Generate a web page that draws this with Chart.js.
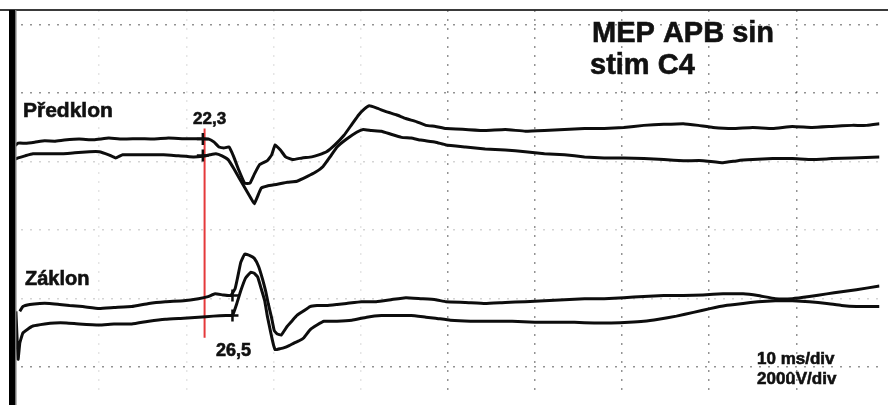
<!DOCTYPE html>
<html>
<head>
<meta charset="utf-8">
<script src="https://cdn.jsdelivr.net/npm/chart.js@4.4.1/dist/chart.umd.min.js"></script>
<style>
  html, body { margin: 0; padding: 0; background: #fff; }
  canvas { display: block; }
</style>
</head>
<body>
<canvas id="mepChart" width="888" height="405"></canvas>
<script>
// time in ms, amplitude in uV (200 uV/div, 10 ms/div)
const predklonATime = [0.2,0.7,1.5,2.6,3.75,4.9,6.0,7.7,9.4,11.1,12.8,14.55,16.25,17.95,19.7,21.1,21.9,22.6,23.2,23.75,24.3,24.9,25.45,26.0,26.7,27.3,27.8,28.4,29.3,29.8,30.2,30.8,31.4,32.2,33.3,34.4,35.2,36.1,37.05,38.1,39.0,39.8,40.45,41.0,41.8,42.95,44.1,45.2,46.4,47.5,48.6,49.8,52.05,54.3,56.6,58.9,61.1,63.4,65.7,67.95,70.2,72.5,74.8,77.05,78.75,80.45,82.7,85.0,87.3,89.55,91.8,94.1,96.4,98.1,99.55];
const predklonAUv = [643,654,654,657,661,660,663,666,664,669,666,667,666,669,667,667,667,666,657,643,640,643,614,577,537,537,563,591,603,620,649,634,614,606,611,614,620,629,649,677,709,737,754,763,757,746,737,726,717,706,703,697,694,691,694,689,691,694,697,697,700,706,709,711,706,700,697,700,697,703,700,703,706,706,711];

const predklonBTime = [0.2,0.7,1.5,2.4,3.75,5.45,7.2,8.9,10,11.1,11.9,12.7,14.0,15.7,17.4,19.1,20.8,21.9,22.7,23.4,24.1,24.8,25.45,26.1,26.8,27.4,27.8,28.3,28.6,29.3,30.45,31.6,32.7,33.9,34.8,35.7,36.5,37.3,38.4,39.55,40.3,41.25,42.4,43.5,44.7,45.8,46.9,48.6,49.8,52.05,54.3,56.6,58.9,61.1,63.4,65.7,67.95,70.2,72.5,74.8,77.05,79.3,81.6,83.3,85.0,87.3,89.55,91.8,94.1,96.4,99.55];
const predklonBUv = [606,611,617,623,623,623,626,629,629,620,611,620,620,620,620,617,614,616,620,623,617,606,580,551,520,494,477,506,523,529,534,540,543,557,569,586,614,643,666,686,694,691,689,680,671,669,663,657,649,643,637,634,629,623,620,614,611,611,609,606,603,603,597,603,606,609,609,606,609,611,614];

const zaklonATime = [0.9,1.25,2.05,3.2,4.3,5.45,6.6,8.1,10,11.7,13.75,15.7,17.6,19.7,21.4,22.5,23.3,24.2,25.1,25.6,25.9,26.25,26.7,27.3,27.8,28.3,28.75,29.1,29.4,29.8,30.1,30.45,30.9,31.6,32.2,32.7,33.4,34.2,35.0,36.1,37.3,38.4,40.1,41.8,43.5,45.2,46.9,48.6,49.8,52.05,54.3,56.6,58.9,61.1,63.4,65.7,67.95,70.2,72.5,74.8,77.05,79.3,81.6,83.9,85.6,87.6,89.55,91.5,93.5,95.2,96.9,99.55];
const zaklonAUv = [163,177,183,186,186,183,180,177,171,174,177,186,191,194,200,206,214,211,209,229,263,306,330,326,318,294,257,223,186,143,106,97,94,120,137,151,163,177,180,180,183,186,191,191,197,203,200,197,191,189,186,189,191,194,197,200,200,203,206,209,209,211,214,214,209,200,200,206,214,220,226,237];

const zaklonBTime = [0.45,0.7,0.9,1.25,1.8,2.4,3.75,4.9,6.25,7.7,10,11.7,13.75,15.7,17.6,19.7,21.4,23.1,24.55,25.3,25.8,26.25,26.8,27.4,27.8,28.2,28.6,29.0,29.3,29.7,30.0,30.2,30.8,31.25,31.8,32.4,32.95,33.5,34.2,35.0,35.8,37.3,39.0,40.7,42.4,44.1,45.8,47.5,48.6,50.3,52.6,54.9,57.4,60.0,62.3,64.55,66.8,68.75,70.8,72.5,74.2,76.25,78.2,80.1,81.9,83.9,85.6,87.6,89.55,91.5,93.5,95.2,96.9,99.55];
const zaklonBUv = [163,23,71,100,111,120,126,129,129,126,123,126,126,134,140,143,146,149,151,151,186,223,260,277,274,263,229,194,149,100,66,51,54,57,63,71,77,86,109,123,134,134,137,146,151,151,151,146,143,137,134,134,134,131,131,131,129,129,131,134,140,149,160,171,180,186,191,194,194,191,186,180,177,177];

// onset markers (as drawn) and the red latency cursor
const onsetPredklonTime = [21.9, 21.9];
const onsetPredklonUv = [666, 618];
const onsetZaklonTime = [25.3, 25.3];
const onsetZaklonUv = [209, 151];
const cursorTime = [22.1, 22.1];
const cursorUv = [697, 86];

const labels = [
  { text: "MEP APB sin", x: 592, y: 42, size: 29 },
  { text: "stim C4", x: 590, y: 74, size: 29 },
  { text: "Předklon", x: 23, y: 117, size: 21 },
  { text: "22,3", x: 193, y: 124, size: 17 },
  { text: "Záklon", x: 25, y: 285, size: 20 },
  { text: "26,5", x: 216, y: 356, size: 18 },
  { text: "10 ms/div", x: 757, y: 364, size: 17 },
  { text: "200ûV/div", x: 757, y: 384, size: 17 }
];

function pts(xs, ys) {
  return xs.map((x, i) => ({ x: x, y: ys[i] }));
}

function trace(xs, ys) {
  return {
    data: pts(xs, ys),
    borderColor: "#0d0d0d",
    borderWidth: 3,
    pointRadius: 0,
    tension: 0.1,
    fill: false
  };
}

function marker(xs, ys) {
  return {
    type: "scatter",
    data: pts(xs, ys),
    pointStyle: "cross",
    pointRadius: 6,
    borderColor: "#0d0d0d",
    borderWidth: 2.5,
    showLine: false
  };
}

const paperPlugin = {
  id: "paper",
  beforeDraw(chart) {
    const ctx = chart.ctx;
    ctx.save();
    ctx.fillStyle = "#fff";
    ctx.fillRect(0, 0, chart.width, chart.height);
    ctx.fillStyle = "#3a3a3a";
    ctx.fillRect(0, 9, chart.width, 2);
    ctx.restore();
  },
  afterDraw(chart) {
    const ctx = chart.ctx;
    ctx.save();
    ctx.fillStyle = "#000";
    ctx.fillRect(9, 10, 6, chart.height - 10);
    ctx.fillStyle = "#777";
    ctx.fillRect(15, 10, 1.5, chart.height - 10);
    ctx.fillStyle = "#111";
    ctx.strokeStyle = "#111";
    ctx.lineWidth = 0.6;
    ctx.textBaseline = "alphabetic";
    labels.forEach(l => {
      ctx.font = "bold " + l.size + "px 'Liberation Sans', Arial, sans-serif";
      ctx.fillText(l.text, l.x, l.y);
      ctx.strokeText(l.text, l.x, l.y);
    });
    ctx.restore();
  }
};

const yGridColor = ctx => {
  const v = ctx.tick ? ctx.tick.value : 0;
  return v === 1000 || v === 800 || v === 0 ? "rgba(40,40,40,0.5)" : "rgba(40,40,40,0.2)";
};

new Chart(document.getElementById("mepChart"), {
  type: "line",
  data: {
    datasets: [
      trace(predklonATime, predklonAUv),
      trace(predklonBTime, predklonBUv),
      trace(zaklonATime, zaklonAUv),
      trace(zaklonBTime, zaklonBUv),
      marker(onsetPredklonTime, onsetPredklonUv),
      marker(onsetZaklonTime, onsetZaklonUv),
      {
        data: pts(cursorTime, cursorUv),
        borderColor: "#e5393b",
        borderWidth: 2,
        pointRadius: 0
      }
    ]
  },
  options: {
    responsive: false,
    animation: false,
    layout: { padding: { left: 12, top: 10, right: 0, bottom: 0 } },
    plugins: { legend: { display: false }, tooltip: { enabled: false } },
    scales: {
      x: {
        type: "linear",
        min: 0,
        max: 99.55,
        ticks: { display: false, stepSize: 10, includeBounds: false },
        grid: {
          color: ctx => (ctx.tick && ctx.tick.value >= 50 ? "rgba(40,40,40,0.5)" : "rgba(40,40,40,0.12)"),
          lineWidth: 1.5,
          drawTicks: false
        },
        border: { display: false, dash: [2, 7] }
      },
      y: {
        type: "linear",
        min: -85.7,
        max: 1042.9,
        ticks: { display: false, stepSize: 200, includeBounds: false },
        grid: { color: yGridColor, lineWidth: 1.5, drawTicks: false },
        border: { display: false, dash: [2, 7] }
      }
    }
  },
  plugins: [paperPlugin]
});
</script>
</body>
</html>
